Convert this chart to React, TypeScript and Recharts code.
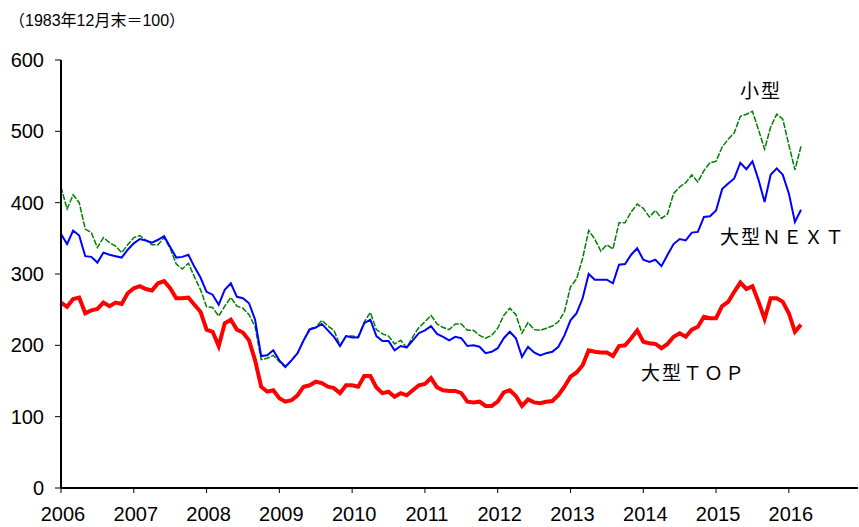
import React from 'react';
import { LineChart, Line, XAxis, YAxis } from 'recharts';

const yearLabels = ['2006', '2007', '2008', '2009', '2010', '2011', '2012', '2013', '2014', '2015', '2016'];
const yTicks = [0, 100, 200, 300, 400, 500, 600];

// Monthly values, Jan 2006 – Mar 2016
const small = [
  422, 391, 411, 400, 363, 358, 337, 351, 344, 339, 330, 341, 351, 354, 347, 341, 341, 351, 336, 314, 307, 315, 296, 278, 254, 253,
  241, 255, 267, 255, 252, 243, 226, 180, 182, 186, 177, 169, 179, 189, 207, 224, 225, 235, 227, 221,
  200, 213, 213, 212, 233, 246, 222, 216, 213, 202, 207, 197, 212, 225, 233, 242, 230, 225, 222, 230, 230, 221, 221, 214, 210, 214,
  224, 242, 252, 243, 217, 232, 222, 221, 224, 227, 233, 247, 282, 293, 322, 361, 349, 332,
  341, 335, 372, 372, 387, 398, 392, 380, 389, 378, 384, 413, 422, 428, 439, 429, 445, 456, 458, 478, 489, 498, 521, 524, 528, 502, 475, 506, 524, 517, 481, 446, 479,
];
const largeNext = [
  356, 342, 361, 354, 325, 324, 316, 330, 327, 325, 323, 334, 343, 349, 347, 344, 348, 353, 338, 323, 324, 327, 310, 295, 275, 271,
  257, 278, 287, 268, 266, 259, 236, 185, 186, 193, 179, 170, 179, 189, 207, 222, 225, 230, 221, 212,
  199, 213, 211, 211, 231, 236, 213, 206, 206, 193, 199, 197, 207, 217, 221, 227, 216, 212, 207, 212, 210, 199, 200, 198, 189, 191,
  196, 210, 219, 210, 184, 198, 190, 186, 189, 191, 198, 214, 235, 245, 266, 300, 292, 292,
  292, 287, 313, 314, 327, 336, 320, 317, 320, 311, 327, 342, 349, 347, 358, 359, 380, 381, 389, 419, 427, 434, 456, 447, 458, 432, 401, 439, 448, 439, 413, 373, 390,
];
const largeTop = [
  260, 254, 265, 267, 245, 249, 251, 260, 255, 260, 258, 273, 280, 283, 279, 277, 287, 290, 280, 266, 266, 267, 257, 247, 222, 219,
  199, 231, 236, 222, 218, 207, 179, 142, 135, 137, 126, 121, 123, 130, 142, 144, 149, 147, 142, 140,
  133, 144, 144, 142, 157, 157, 141, 133, 135, 128, 133, 130, 137, 144, 146, 154, 141, 137, 136, 136, 133, 121, 120, 121, 115, 115,
  121, 134, 137, 129, 115, 124, 120, 119, 121, 122, 130, 142, 156, 162, 172, 193, 191, 190,
  190, 185, 199, 200, 210, 221, 205, 203, 202, 196, 202, 212, 217, 212, 222, 226, 240, 238, 238, 255, 261, 275, 288, 279, 283, 261, 237, 266, 266, 261, 245, 219, 229,
];

const data = small.map((v, i) => ({ m: i, small: v, next: largeNext[i], top: largeTop[i] }));
const xTicks = yearLabels.map((_, i) => i * 12);

const FONT = "'Liberation Sans', Arial, sans-serif";
const tickFont = { fontFamily: FONT, fontSize: 20, fill: '#000' };

const XTick = (props: any) => {
  const { x, y, payload } = props;
  return (
    <text x={x + 2} y={y + 26} textAnchor="middle" fontFamily={FONT} fontSize={20} fill="#000">
      {yearLabels[Math.round(payload.value / 12)]}
    </text>
  );
};

const labelStyle: React.CSSProperties = {
  position: 'absolute',
  fontFamily: "'Noto Sans CJK JP', sans-serif",
  fontSize: 19,
  color: '#000',
  lineHeight: 1,
  whiteSpace: 'nowrap',
  letterSpacing: 2,
};

export default function App() {
  return (
    <div style={{ position: 'absolute', left: 0, top: 0, width: 859, height: 527, background: '#fff' }}>
      <LineChart width={859} height={527} data={data} margin={{ top: 60, right: 1, bottom: 0, left: 0 }}>
        <XAxis
          dataKey="m"
          type="number"
          domain={[0, 131.4]}
          ticks={xTicks}
          axisLine={{ stroke: '#000', strokeWidth: 2 }}
          tickLine={{ stroke: '#000', strokeWidth: 1 }}
          tickSize={5}
          tick={<XTick />}
          height={39}
          interval={0}
        />
        <YAxis
          domain={[0, 600]}
          ticks={yTicks}
          axisLine={{ stroke: '#000', strokeWidth: 2 }}
          tickLine={{ stroke: '#000', strokeWidth: 1 }}
          tickSize={6}
          tickMargin={11}
          tick={tickFont}
          width={61}
          interval={0}
        />
        <Line dataKey="small" stroke="#008000" strokeWidth={1.5} strokeDasharray="6 1.5" dot={false} isAnimationActive={false} />
        <Line dataKey="next" stroke="#0000FF" strokeWidth={2} dot={false} isAnimationActive={false} />
        <Line dataKey="top" stroke="#FF0000" strokeWidth={4} dot={false} isAnimationActive={false} />
      </LineChart>
      <div style={{ position: 'absolute', left: 9, top: 7, fontFamily: "'Liberation Sans', 'Noto Sans CJK JP', sans-serif", fontSize: 16, color: '#000', whiteSpace: 'nowrap' }}>
        （1983年12月末＝100）
      </div>
      <div style={{ ...labelStyle, left: 740, top: 80 }}>小型</div>
      <div style={{ ...labelStyle, left: 720, top: 226 }}>大型ＮＥＸＴ</div>
      <div style={{ ...labelStyle, left: 641, top: 362 }}>大型ＴＯＰ</div>
    </div>
  );
}
